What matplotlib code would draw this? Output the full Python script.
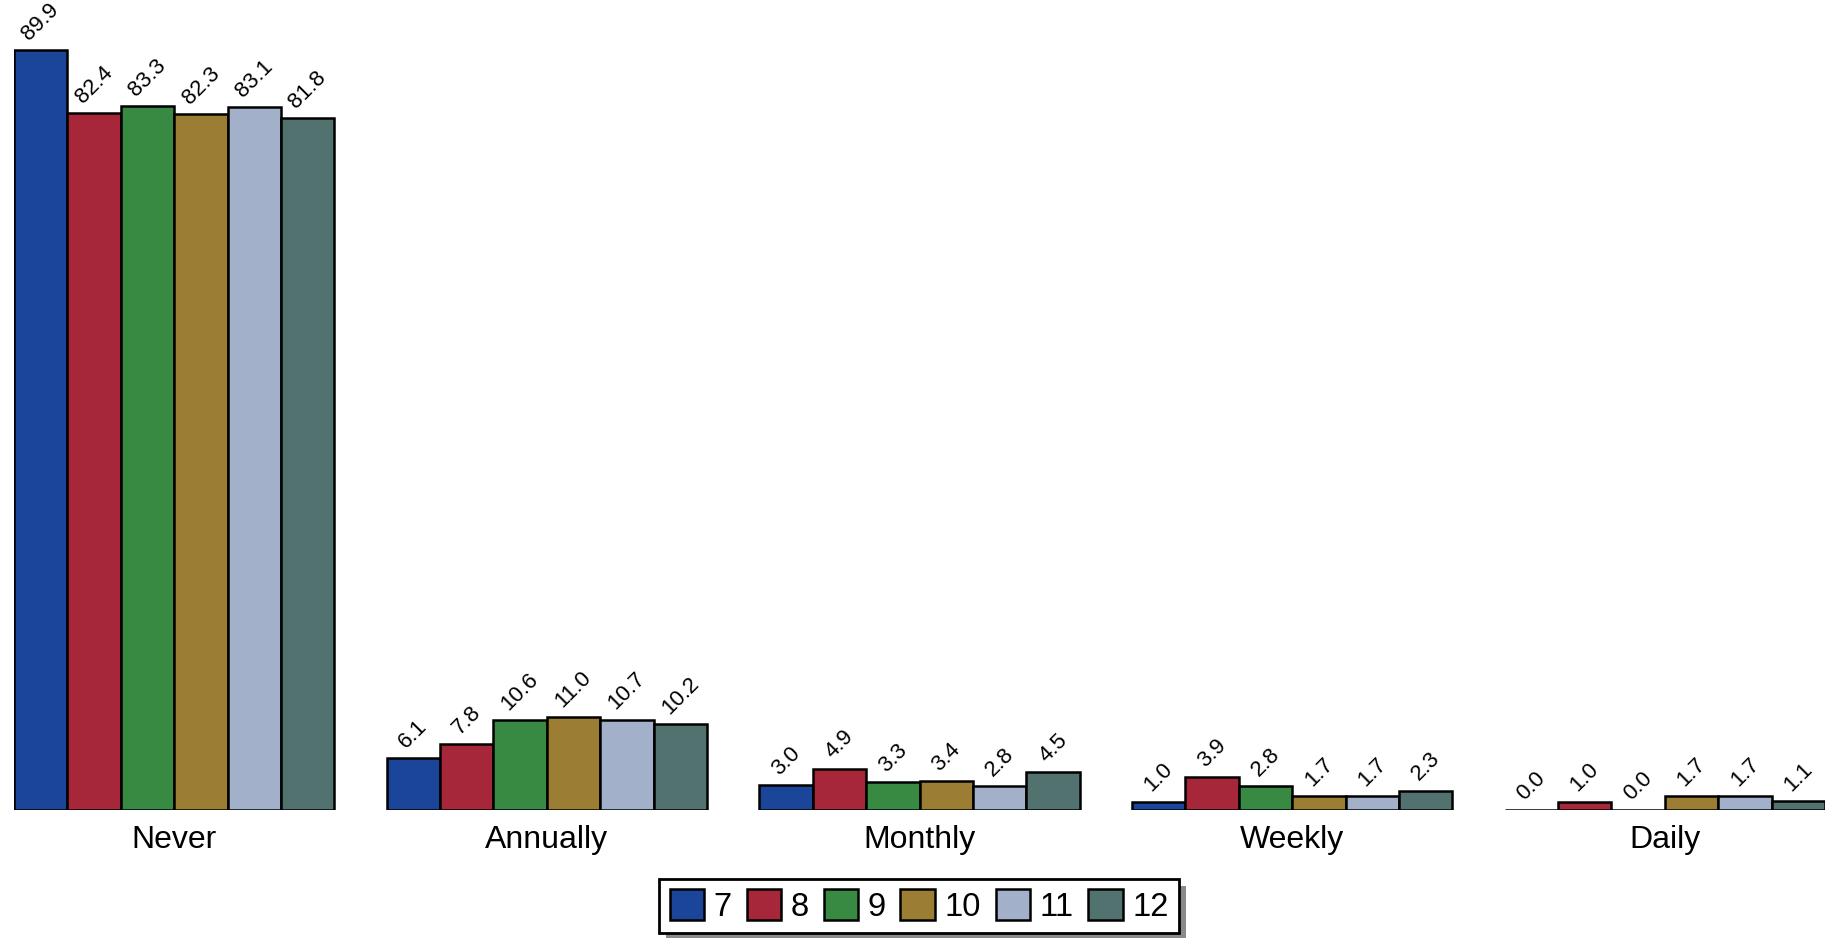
import matplotlib
matplotlib.use("Agg")
import matplotlib.pyplot as plt
from matplotlib.patches import Rectangle
import numpy as np

plt.rcParams['font.family'] = ['Liberation Sans', 'DejaVu Sans']

categories = ["Never", "Annually", "Monthly", "Weekly", "Daily"]
grades = ["7", "8", "9", "10", "11", "12"]
grade7 = [89.9, 6.1, 3.0, 1.0, 0.0]
grade8 = [82.4, 7.8, 4.9, 3.9, 1.0]
grade9 = [83.3, 10.6, 3.3, 2.8, 0.0]
grade10 = [82.3, 11.0, 3.4, 1.7, 1.7]
grade11 = [83.1, 10.7, 2.8, 1.7, 1.7]
grade12 = [81.8, 10.2, 4.5, 2.3, 1.1]
series = [grade7, grade8, grade9, grade10, grade11, grade12]
colors = ["#1a4599", "#a6263a", "#388942", "#9c7d34", "#a2b1c9", "#51726f"]

W, H = 1835, 938
fig = plt.figure(figsize=(W/100, H/100), dpi=100)
ax = fig.add_axes([14/W, 1-810/H, (1825-14)/W, (810-18)/H])

x = np.arange(len(categories))
group_w = 0.86
bw = group_w / len(series)

for i, vals in enumerate(series):
    pos = x - group_w/2 + bw*(i + 0.5)
    bars = ax.bar(pos, vals, width=bw, color=colors[i], edgecolor="black",
                  linewidth=1.8, label=grades[i])
    for b, v in zip(bars, vals):
        ax.annotate(f"{v:.1f}", (b.get_x() + b.get_width()/2, v),
                    xytext=(0, 4), textcoords="offset points",
                    ha="center", va="bottom", rotation=45, fontsize=16)

ax.set_xlim(-group_w/2, len(categories) - 1 + group_w/2)
ax.set_ylim(0, (810-18)/((810-50)/89.9))
ax.set_xticks(x)
ax.set_xticklabels(categories, fontsize=23)
ax.tick_params(axis="x", length=0, pad=11)
ax.set_yticks([])
for s in ax.spines.values():
    s.set_visible(False)

leg = fig.legend(loc="center", bbox_to_anchor=(0.501, 0.034), ncol=6,
                 fontsize=23.5, frameon=True, fancybox=False, framealpha=1,
                 handlelength=1.05, handleheight=1.05, handletextpad=0.3,
                 columnspacing=0.45, borderpad=0.32)
leg.get_frame().set_edgecolor("black")
leg.get_frame().set_facecolor("white")
leg.get_frame().set_linewidth(2.0)
leg.set_zorder(5)

# drop shadow behind the legend box
fig.canvas.draw()
bb = leg.get_window_extent()
shadow = Rectangle(((bb.x0 + 7)/W, (bb.y0 - 7)/H), bb.width/W, bb.height/H,
                   transform=fig.transFigure, facecolor="#8a8a8a",
                   edgecolor="none", zorder=4)
fig.add_artist(shadow)

fig.savefig("out.png", dpi=100)
